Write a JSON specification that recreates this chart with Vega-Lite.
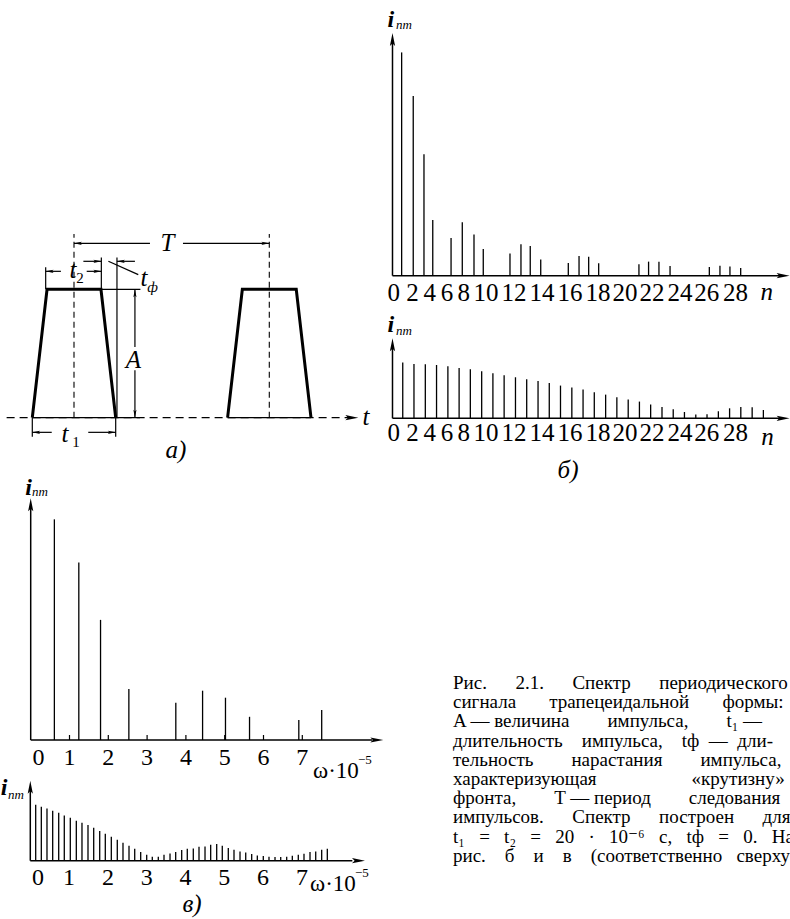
{
"$schema":"https://vega.github.io/schema/vega-lite/v6.json",
"width":790,"height":919,"padding":0,"autosize":{"type":"none"},
"background":"white",
"config":{"view":{"stroke":null},"mark":{"color":"black"},"text":{"font":"Liberation Serif, DejaVu Serif, serif","color":"black"}},
"datasets":{
"b_top":[{"n":0.75,"amp":0.92},{"n":1.70,"amp":0.74},{"n":2.58,"amp":0.50},{"n":3.30,"amp":0.23},{"n":4.80,"amp":0.155},{"n":5.72,"amp":0.22},{"n":6.68,"amp":0.17},{"n":7.44,"amp":0.11},{"n":9.63,"amp":0.092},{"n":10.53,"amp":0.13},{"n":11.29,"amp":0.122},{"n":12.15,"amp":0.067},{"n":14.41,"amp":0.052},{"n":15.29,"amp":0.081},{"n":16.08,"amp":0.078},{"n":16.90,"amp":0.051},{"n":20.20,"amp":0.047},{"n":20.99,"amp":0.058},{"n":21.84,"amp":0.058},{"n":22.75,"amp":0.040},{"n":25.97,"amp":0.036},{"n":26.84,"amp":0.041},{"n":27.66,"amp":0.038},{"n":28.54,"amp":0.032}],
"b_bot":[{"n":0.84,"amp":0.696},{"n":1.76,"amp":0.679},{"n":2.69,"amp":0.675},{"n":3.61,"amp":0.666},{"n":4.54,"amp":0.65},{"n":5.46,"amp":0.629},{"n":6.38,"amp":0.613},{"n":7.31,"amp":0.588},{"n":8.23,"amp":0.563},{"n":9.15,"amp":0.538},{"n":10.08,"amp":0.513},{"n":11.0,"amp":0.488},{"n":11.93,"amp":0.466},{"n":12.85,"amp":0.441},{"n":13.77,"amp":0.409},{"n":14.70,"amp":0.384},{"n":15.62,"amp":0.359},{"n":16.54,"amp":0.325},{"n":17.47,"amp":0.296},{"n":18.39,"amp":0.263},{"n":19.32,"amp":0.234},{"n":20.24,"amp":0.209},{"n":21.16,"amp":0.171},{"n":22.09,"amp":0.141},{"n":23.01,"amp":0.113},{"n":23.93,"amp":0.079},{"n":24.86,"amp":0.046},{"n":25.78,"amp":0.05},{"n":26.71,"amp":0.088},{"n":27.63,"amp":0.125},{"n":28.55,"amp":0.141},{"n":29.48,"amp":0.138},{"n":30.40,"amp":0.104}],
"n_labels":[{"label":"0","at":0.1},{"label":"2","at":1.63},{"label":"4","at":3.05},{"label":"6","at":4.47},{"label":"8","at":5.84},{"label":"10","at":7.66},{"label":"12","at":9.96},{"label":"14","at":12.25},{"label":"16","at":14.55},{"label":"18","at":16.84},{"label":"20","at":19.06},{"label":"22","at":21.27},{"label":"24","at":23.57},{"label":"26","at":25.75},{"label":"28","at":28.11}],
"v_top":[{"w":0.61,"amp":0.913},{"w":1.24,"amp":0.734},{"w":1.80,"amp":0.497},{"w":2.53,"amp":0.211},{"w":3.74,"amp":0.154},{"w":4.43,"amp":0.204},{"w":5.02,"amp":0.175},{"w":5.64,"amp":0.096},{"w":6.91,"amp":0.083},{"w":7.50,"amp":0.124}],
"v_bot":[{"w":0.139,"amp":0.70},{"w":0.284,"amp":0.675},{"w":0.430,"amp":0.654},{"w":0.577,"amp":0.625},{"w":0.732,"amp":0.60},{"w":0.876,"amp":0.566},{"w":1.031,"amp":0.538},{"w":1.186,"amp":0.50},{"w":1.332,"amp":0.475},{"w":1.487,"amp":0.446},{"w":1.634,"amp":0.413},{"w":1.789,"amp":0.371},{"w":1.933,"amp":0.338},{"w":2.088,"amp":0.30},{"w":2.242,"amp":0.263},{"w":2.389,"amp":0.225},{"w":2.544,"amp":0.188},{"w":2.691,"amp":0.15},{"w":2.845,"amp":0.109},{"w":3.0,"amp":0.075},{"w":3.144,"amp":0.05},{"w":3.299,"amp":0.05},{"w":3.446,"amp":0.075},{"w":3.601,"amp":0.091},{"w":3.747,"amp":0.109},{"w":3.902,"amp":0.134},{"w":4.046,"amp":0.15},{"w":4.201,"amp":0.154},{"w":4.348,"amp":0.173},{"w":4.503,"amp":0.179},{"w":4.649,"amp":0.20},{"w":4.804,"amp":0.209},{"w":4.948,"amp":0.188},{"w":5.103,"amp":0.159},{"w":5.250,"amp":0.138},{"w":5.405,"amp":0.116},{"w":5.552,"amp":0.104},{"w":5.706,"amp":0.084},{"w":5.851,"amp":0.066},{"w":6.005,"amp":0.059},{"w":6.152,"amp":0.05},{"w":6.307,"amp":0.046},{"w":6.454,"amp":0.046},{"w":6.608,"amp":0.05},{"w":6.753,"amp":0.063},{"w":6.907,"amp":0.075},{"w":7.054,"amp":0.088},{"w":7.209,"amp":0.109},{"w":7.356,"amp":0.116},{"w":7.510,"amp":0.138},{"w":7.655,"amp":0.15}],
"w_labels":[{"label":"0","at":0.2},{"label":"1","at":1},{"label":"2","at":2},{"label":"3","at":3},{"label":"4","at":4},{"label":"5","at":5},{"label":"6","at":6},{"label":"7","at":7}],
"w_ticks":[{"w":1},{"w":2},{"w":3},{"w":4},{"w":5},{"w":6},{"w":7}],
"pulses":[{"pulse":1,"k":1,"t":-21.35,"A":0},{"pulse":1,"k":2,"t":-13.8,"A":1},{"pulse":1,"k":3,"t":13.8,"A":1},{"pulse":1,"k":4,"t":21.35,"A":0},{"pulse":2,"k":1,"t":78.65,"A":0},{"pulse":2,"k":2,"t":86.2,"A":1},{"pulse":2,"k":3,"t":113.8,"A":1},{"pulse":2,"k":4,"t":121.35,"A":0}],
"a_lines":[{"t":-21.35,"A":0,"t2":33.8,"A2":0},{"t":78.65,"A":0,"t2":121.35,"A2":0},{"t":-14.5,"A":1,"t2":-14.5,"A2":1.171},{"t":14,"A":1,"t2":14,"A2":1.248},{"t":22,"A":0,"t2":22,"A2":1.248},{"t":14,"A":1,"t2":34,"A2":1},{"t":31.2,"A":0,"t2":31.2,"A2":0.37},{"t":31.2,"A":0.55,"t2":31.2,"A2":1},{"t":0,"A":1.358,"t2":38.9,"A2":1.358},{"t":55.8,"A":1.358,"t2":100,"A2":1.358},{"t":-14.5,"A":1.14,"t2":-6.7,"A2":1.14},{"t":6.5,"A":1.14,"t2":14,"A2":1.14},{"t":4.8,"A":1.218,"t2":14,"A2":1.218},{"t":22,"A":1.218,"t2":31.2,"A2":1.218},{"t":17.6,"A":1.218,"t2":32.9,"A2":1.114},{"t":-21.35,"A":0,"t2":-21.35,"A2":-0.148},{"t":21.35,"A":0,"t2":21.35,"A2":-0.148},{"t":-21.35,"A":-0.114,"t2":-11.4,"A2":-0.114},{"t":7.3,"A":-0.114,"t2":21.35,"A2":-0.114}],
"a_centers":[{"t":0,"A":0,"A2":1.431},{"t":100,"A":0,"A2":1.431}],
"a_arrows":[{"t":0,"A":1.358,"dir":"left"},{"t":100,"A":1.358,"dir":"right"},{"t":31.2,"A":1,"dir":"up"},{"t":31.2,"A":0,"dir":"down"},{"t":-14.5,"A":1.14,"dir":"left"},{"t":14,"A":1.14,"dir":"right"},{"t":14,"A":1.218,"dir":"right"},{"t":22,"A":1.218,"dir":"left"},{"t":-21.35,"A":-0.114,"dir":"left"},{"t":21.35,"A":-0.114,"dir":"right"}],
"a_big":[{"t":47.9,"A":1.298,"label":"T"},{"t":30.4,"A":0.387,"label":"A"},{"t":149.5,"A":-0.057,"label":"t"},{"t":52.2,"A":-0.314,"label":"а)"},{"t":-0.5,"A":1.088,"label":"t"},{"t":-4.6,"A":-0.187,"label":"t"},{"t":35.8,"A":1.026,"label":"t"}],
"a_subs":[{"t":3.07,"A":1.049,"label":"2"},{"t":1.0,"A":-0.228,"label":"1"}],
"caption":[
{"line":1,"text":"Рис.\u00a0\u00a0\u00a0\u00a0\u00a0 2.1.\u00a0\u00a0\u00a0\u00a0\u00a0 Спектр\u00a0\u00a0\u00a0\u00a0\u00a0 периодического"},
{"line":2,"text":"сигнала\u00a0\u00a0\u00a0\u00a0\u00a0\u00a0 трапецеидальной\u00a0\u00a0\u00a0\u00a0\u00a0\u00a0 формы:"},
{"line":3,"text":"A — величина\u00a0\u00a0\u00a0\u00a0\u00a0\u00a0\u00a0 импульса,\u00a0\u00a0\u00a0\u00a0\u00a0\u00a0\u00a0 t₁ —"},
{"line":4,"text":"длительность\u00a0\u00a0\u00a0 импульса,\u00a0\u00a0\u00a0 tф\u00a0 —\u00a0 дли-"},
{"line":5,"text":"тельность\u00a0\u00a0\u00a0\u00a0\u00a0\u00a0\u00a0 нарастания\u00a0\u00a0\u00a0\u00a0\u00a0\u00a0\u00a0 импульса,"},
{"line":6,"text":"характеризующая\u00a0\u00a0\u00a0\u00a0\u00a0\u00a0\u00a0\u00a0\u00a0\u00a0\u00a0\u00a0\u00a0\u00a0\u00a0\u00a0\u00a0\u00a0\u00a0 «крутизну»"},
{"line":7,"text":"фронта,\u00a0\u00a0\u00a0\u00a0\u00a0\u00a0\u00a0 T — период\u00a0\u00a0\u00a0\u00a0\u00a0\u00a0\u00a0 следования"},
{"line":8,"text":"импульсов.\u00a0\u00a0\u00a0\u00a0\u00a0 Спектр\u00a0\u00a0\u00a0\u00a0\u00a0 построен\u00a0\u00a0\u00a0\u00a0\u00a0 для"},
{"line":9,"text":"t₁\u00a0\u00a0 =\u00a0\u00a0 t₂\u00a0\u00a0 =\u00a0\u00a0 20\u00a0\u00a0 ·\u00a0\u00a0 10⁻⁶\u00a0\u00a0 с,\u00a0\u00a0 tф\u00a0\u00a0 =\u00a0\u00a0 0.\u00a0\u00a0 На"},
{"line":10,"text":"рис.\u00a0\u00a0\u00a0 б\u00a0\u00a0\u00a0 и\u00a0\u00a0\u00a0 в\u00a0\u00a0\u00a0 (соответственно\u00a0\u00a0 сверху"}]
},
"layer":[
{"data":{"name":"b_top"},"mark":{"type":"rule","strokeWidth":1.3},"encoding":{"x":{"field":"n","type":"quantitative","scale":{"domain":[-32.172,32.582],"nice":false,"zero":false},"axis":null},"y":{"field":"amp","type":"quantitative","scale":{"domain":[-2.6506,1.136],"nice":false,"zero":false},"axis":null},"y2":{"datum":0}}},
{"data":{"values":[{}]},"mark":{"type":"rule","strokeWidth":1.5},"encoding":{"x":{"datum":0,"type":"quantitative","scale":{"domain":[-32.172,32.582],"nice":false,"zero":false},"axis":null},"y":{"datum":0,"type":"quantitative","scale":{"domain":[-2.6506,1.136],"nice":false,"zero":false},"axis":null},"y2":{"datum":0.96}}},
{"data":{"values":[{}]},"mark":{"type":"rule","strokeWidth":1.5},"encoding":{"x":{"datum":0,"type":"quantitative","scale":{"domain":[-32.172,32.582],"nice":false,"zero":false},"axis":null},"x2":{"datum":32.0},"y":{"datum":0,"type":"quantitative","scale":{"domain":[-2.6506,1.136],"nice":false,"zero":false},"axis":null}}},
{"data":{"values":[{}]},"mark":{"type":"point","shape":"M0,0L-0.3,1.5L0,1.2L0.3,1.5Z","filled":true,"size":300,"opacity":1},"encoding":{"x":{"datum":0,"type":"quantitative","scale":{"domain":[-32.172,32.582],"nice":false,"zero":false},"axis":null},"y":{"datum":1,"type":"quantitative","scale":{"domain":[-2.6506,1.136],"nice":false,"zero":false},"axis":null}}},
{"data":{"values":[{}]},"mark":{"type":"point","shape":"M0,0L-1.5,-0.3L-1.2,0L-1.5,0.3Z","filled":true,"size":300,"opacity":1},"encoding":{"x":{"datum":32.55,"type":"quantitative","scale":{"domain":[-32.172,32.582],"nice":false,"zero":false},"axis":null},"y":{"datum":0,"type":"quantitative","scale":{"domain":[-2.6506,1.136],"nice":false,"zero":false},"axis":null}}},
{"data":{"name":"n_labels"},"mark":{"type":"text","font":"Liberation Serif, DejaVu Serif, serif","fontSize":25,"baseline":"middle","align":"center"},"encoding":{"x":{"field":"at","type":"quantitative","scale":{"domain":[-32.172,32.582],"nice":false,"zero":false},"axis":null},"y":{"datum":-0.0713,"type":"quantitative","scale":{"domain":[-2.6506,1.136],"nice":false,"zero":false},"axis":null},"text":{"field":"label"}}},
{"data":{"values":[{}]},"mark":{"type":"text","font":"Liberation Serif, DejaVu Serif, serif","fontSize":25,"fontStyle":"italic","baseline":"middle","align":"center","text":"n"},"encoding":{"x":{"datum":30.67,"type":"quantitative","scale":{"domain":[-32.172,32.582],"nice":false,"zero":false},"axis":null},"y":{"datum":-0.0692,"type":"quantitative","scale":{"domain":[-2.6506,1.136],"nice":false,"zero":false},"axis":null}}},
{"data":{"values":[{}]},"mark":{"type":"text","font":"Liberation Serif, DejaVu Serif, serif","fontSize":24,"fontStyle":"italic","fontWeight":"bold","baseline":"alphabetic","align":"center","text":"i"},"encoding":{"x":{"datum":-0.14,"type":"quantitative","scale":{"domain":[-32.172,32.582],"nice":false,"zero":false},"axis":null},"y":{"datum":1.0247,"type":"quantitative","scale":{"domain":[-2.6506,1.136],"nice":false,"zero":false},"axis":null}}},
{"data":{"values":[{}]},"mark":{"type":"text","font":"Liberation Serif, DejaVu Serif, serif","fontSize":13,"fontStyle":"italic","baseline":"alphabetic","align":"left","text":"nm"},"encoding":{"x":{"datum":0.29,"type":"quantitative","scale":{"domain":[-32.172,32.582],"nice":false,"zero":false},"axis":null},"y":{"datum":1.0165,"type":"quantitative","scale":{"domain":[-2.6506,1.136],"nice":false,"zero":false},"axis":null}}},

{"data":{"name":"b_bot"},"mark":{"type":"rule","strokeWidth":1.3},"encoding":{"x":{"field":"n","type":"quantitative","scale":{"domain":[-32.172,32.582],"nice":false,"zero":false},"axis":null},"y":{"field":"amp","type":"quantitative","scale":{"domain":[-6.25875,5.22875],"nice":false,"zero":false},"axis":null},"y2":{"datum":0}}},
{"data":{"values":[{}]},"mark":{"type":"rule","strokeWidth":1.5},"encoding":{"x":{"datum":0,"type":"quantitative","scale":{"domain":[-32.172,32.582],"nice":false,"zero":false},"axis":null},"y":{"datum":0,"type":"quantitative","scale":{"domain":[-6.25875,5.22875],"nice":false,"zero":false},"axis":null},"y2":{"datum":0.9}}},
{"data":{"values":[{}]},"mark":{"type":"rule","strokeWidth":1.5},"encoding":{"x":{"datum":0,"type":"quantitative","scale":{"domain":[-32.172,32.582],"nice":false,"zero":false},"axis":null},"x2":{"datum":32.0},"y":{"datum":0,"type":"quantitative","scale":{"domain":[-6.25875,5.22875],"nice":false,"zero":false},"axis":null}}},
{"data":{"values":[{}]},"mark":{"type":"point","shape":"M0,0L-0.3,1.5L0,1.2L0.3,1.5Z","filled":true,"size":300,"opacity":1},"encoding":{"x":{"datum":0,"type":"quantitative","scale":{"domain":[-32.172,32.582],"nice":false,"zero":false},"axis":null},"y":{"datum":1,"type":"quantitative","scale":{"domain":[-6.25875,5.22875],"nice":false,"zero":false},"axis":null}}},
{"data":{"values":[{}]},"mark":{"type":"point","shape":"M0,0L-1.5,-0.3L-1.2,0L-1.5,0.3Z","filled":true,"size":300,"opacity":1},"encoding":{"x":{"datum":32.55,"type":"quantitative","scale":{"domain":[-32.172,32.582],"nice":false,"zero":false},"axis":null},"y":{"datum":0,"type":"quantitative","scale":{"domain":[-6.25875,5.22875],"nice":false,"zero":false},"axis":null}}},
{"data":{"name":"n_labels"},"mark":{"type":"text","font":"Liberation Serif, DejaVu Serif, serif","fontSize":25,"baseline":"middle","align":"center"},"encoding":{"x":{"field":"at","type":"quantitative","scale":{"domain":[-32.172,32.582],"nice":false,"zero":false},"axis":null},"y":{"datum":-0.1875,"type":"quantitative","scale":{"domain":[-6.25875,5.22875],"nice":false,"zero":false},"axis":null},"text":{"field":"label"}}},
{"data":{"values":[{}]},"mark":{"type":"text","font":"Liberation Serif, DejaVu Serif, serif","fontSize":25,"fontStyle":"italic","baseline":"middle","align":"center","text":"n"},"encoding":{"x":{"datum":30.74,"type":"quantitative","scale":{"domain":[-32.172,32.582],"nice":false,"zero":false},"axis":null},"y":{"datum":-0.234,"type":"quantitative","scale":{"domain":[-6.25875,5.22875],"nice":false,"zero":false},"axis":null}}},
{"data":{"values":[{}]},"mark":{"type":"text","font":"Liberation Serif, DejaVu Serif, serif","fontSize":24,"fontStyle":"italic","fontWeight":"bold","baseline":"alphabetic","align":"center","text":"i"},"encoding":{"x":{"datum":-0.14,"type":"quantitative","scale":{"domain":[-32.172,32.582],"nice":false,"zero":false},"axis":null},"y":{"datum":1.079,"type":"quantitative","scale":{"domain":[-6.25875,5.22875],"nice":false,"zero":false},"axis":null}}},
{"data":{"values":[{}]},"mark":{"type":"text","font":"Liberation Serif, DejaVu Serif, serif","fontSize":13,"fontStyle":"italic","baseline":"alphabetic","align":"left","text":"nm"},"encoding":{"x":{"datum":0.29,"type":"quantitative","scale":{"domain":[-32.172,32.582],"nice":false,"zero":false},"axis":null},"y":{"datum":1.041,"type":"quantitative","scale":{"domain":[-6.25875,5.22875],"nice":false,"zero":false},"axis":null}}},
{"data":{"values":[{}]},"mark":{"type":"text","font":"Liberation Serif, DejaVu Serif, serif","fontSize":25,"fontStyle":"italic","baseline":"alphabetic","align":"center","text":"б)"},"encoding":{"x":{"datum":14.39,"type":"quantitative","scale":{"domain":[-32.172,32.582],"nice":false,"zero":false},"axis":null},"y":{"datum":-0.75,"type":"quantitative","scale":{"domain":[-6.25875,5.22875],"nice":false,"zero":false},"axis":null}}},

{"data":{"values":[{}]},"mark":{"type":"rule","strokeWidth":1.2,"strokeDash":[8,5]},"encoding":{"x":{"datum":-34.5,"type":"quantitative","scale":{"domain":[-37.89,366.62],"nice":false,"zero":false},"axis":null},"x2":{"datum":142},"y":{"datum":0,"type":"quantitative","scale":{"domain":[-3.9042,3.2531],"nice":false,"zero":false},"axis":null}}},
{"data":{"name":"a_centers"},"mark":{"type":"rule","strokeWidth":1.1,"strokeDash":[6,4]},"encoding":{"x":{"field":"t","type":"quantitative","scale":{"domain":[-37.89,366.62],"nice":false,"zero":false},"axis":null},"y":{"field":"A","type":"quantitative","scale":{"domain":[-3.9042,3.2531],"nice":false,"zero":false},"axis":null},"y2":{"field":"A2"}}},
{"data":{"name":"a_lines"},"mark":{"type":"rule","strokeWidth":1.2},"encoding":{"x":{"field":"t","type":"quantitative","scale":{"domain":[-37.89,366.62],"nice":false,"zero":false},"axis":null},"x2":{"field":"t2"},"y":{"field":"A","type":"quantitative","scale":{"domain":[-3.9042,3.2531],"nice":false,"zero":false},"axis":null},"y2":{"field":"A2"}}},
{"data":{"name":"pulses"},"mark":{"type":"line","strokeWidth":3,"strokeJoin":"miter","strokeCap":"butt"},"encoding":{"x":{"field":"t","type":"quantitative","scale":{"domain":[-37.89,366.62],"nice":false,"zero":false},"axis":null},"y":{"field":"A","type":"quantitative","scale":{"domain":[-3.9042,3.2531],"nice":false,"zero":false},"axis":null},"detail":{"field":"pulse"},"order":{"field":"k"}}},
{"data":{"name":"a_arrows"},"mark":{"type":"point","filled":true,"size":110,"opacity":1},"encoding":{"x":{"field":"t","type":"quantitative","scale":{"domain":[-37.89,366.62],"nice":false,"zero":false},"axis":null},"y":{"field":"A","type":"quantitative","scale":{"domain":[-3.9042,3.2531],"nice":false,"zero":false},"axis":null},"shape":{"field":"dir","type":"nominal","scale":{"domain":["left","right","up","down"],"range":["M0,0L1.5,-0.3L1.2,0L1.5,0.3Z","M0,0L-1.5,-0.3L-1.2,0L-1.5,0.3Z","M0,0L-0.3,1.5L0,1.2L0.3,1.5Z","M0,0L-0.3,-1.5L0,-1.2L0.3,-1.5Z"]},"legend":null}}},
{"data":{"values":[{}]},"mark":{"type":"point","shape":"M0,0L-1.5,-0.3L-1.2,0L-1.5,0.3Z","filled":true,"size":300,"opacity":1},"encoding":{"x":{"datum":145.6,"type":"quantitative","scale":{"domain":[-37.89,366.62],"nice":false,"zero":false},"axis":null},"y":{"datum":0,"type":"quantitative","scale":{"domain":[-3.9042,3.2531],"nice":false,"zero":false},"axis":null}}},
{"data":{"name":"a_big"},"mark":{"type":"text","font":"Liberation Serif, DejaVu Serif, serif","fontSize":25,"fontStyle":"italic","baseline":"alphabetic","align":"center"},"encoding":{"x":{"field":"t","type":"quantitative","scale":{"domain":[-37.89,366.62],"nice":false,"zero":false},"axis":null},"y":{"field":"A","type":"quantitative","scale":{"domain":[-3.9042,3.2531],"nice":false,"zero":false},"axis":null},"text":{"field":"label"}}},
{"data":{"name":"a_subs"},"mark":{"type":"text","font":"Liberation Serif, DejaVu Serif, serif","fontSize":15,"baseline":"alphabetic","align":"center"},"encoding":{"x":{"field":"t","type":"quantitative","scale":{"domain":[-37.89,366.62],"nice":false,"zero":false},"axis":null},"y":{"field":"A","type":"quantitative","scale":{"domain":[-3.9042,3.2531],"nice":false,"zero":false},"axis":null},"text":{"field":"label"}}},
{"data":{"values":[{}]},"mark":{"type":"text","font":"Liberation Serif, DejaVu Serif, serif","fontSize":15,"fontStyle":"italic","baseline":"alphabetic","align":"center","text":"ф"},"encoding":{"x":{"datum":40.2,"type":"quantitative","scale":{"domain":[-37.89,366.62],"nice":false,"zero":false},"axis":null},"y":{"datum":0.978,"type":"quantitative","scale":{"domain":[-3.9042,3.2531],"nice":false,"zero":false},"axis":null}}},

{"data":{"name":"v_top"},"mark":{"type":"rule","strokeWidth":1.3},"encoding":{"x":{"field":"w","type":"quantitative","scale":{"domain":[-0.79124,19.5696],"nice":false,"zero":false},"axis":null},"y":{"field":"amp","type":"quantitative","scale":{"domain":[-0.74059,3.06165],"nice":false,"zero":false},"axis":null},"y2":{"datum":0}}},
{"data":{"name":"w_ticks"},"mark":{"type":"rule","strokeWidth":1.2},"encoding":{"x":{"field":"w","type":"quantitative","scale":{"domain":[-0.79124,19.5696],"nice":false,"zero":false},"axis":null},"y":{"datum":0.0207,"type":"quantitative","scale":{"domain":[-0.74059,3.06165],"nice":false,"zero":false},"axis":null},"y2":{"datum":0}}},
{"data":{"values":[{}]},"mark":{"type":"rule","strokeWidth":1.5},"encoding":{"x":{"datum":0,"type":"quantitative","scale":{"domain":[-0.79124,19.5696],"nice":false,"zero":false},"axis":null},"y":{"datum":0,"type":"quantitative","scale":{"domain":[-0.74059,3.06165],"nice":false,"zero":false},"axis":null},"y2":{"datum":0.96}}},
{"data":{"values":[{}]},"mark":{"type":"rule","strokeWidth":1.5},"encoding":{"x":{"datum":0,"type":"quantitative","scale":{"domain":[-0.79124,19.5696],"nice":false,"zero":false},"axis":null},"x2":{"datum":8.8},"y":{"datum":0,"type":"quantitative","scale":{"domain":[-0.74059,3.06165],"nice":false,"zero":false},"axis":null}}},
{"data":{"values":[{}]},"mark":{"type":"point","shape":"M0,0L-0.3,1.5L0,1.2L0.3,1.5Z","filled":true,"size":300,"opacity":1},"encoding":{"x":{"datum":0,"type":"quantitative","scale":{"domain":[-0.79124,19.5696],"nice":false,"zero":false},"axis":null},"y":{"datum":1,"type":"quantitative","scale":{"domain":[-0.74059,3.06165],"nice":false,"zero":false},"axis":null}}},
{"data":{"values":[{}]},"mark":{"type":"point","shape":"M0,0L-1.5,-0.3L-1.2,0L-1.5,0.3Z","filled":true,"size":300,"opacity":1},"encoding":{"x":{"datum":9.088,"type":"quantitative","scale":{"domain":[-0.79124,19.5696],"nice":false,"zero":false},"axis":null},"y":{"datum":0,"type":"quantitative","scale":{"domain":[-0.74059,3.06165],"nice":false,"zero":false},"axis":null}}},
{"data":{"name":"w_labels"},"mark":{"type":"text","font":"Liberation Serif, DejaVu Serif, serif","fontSize":24,"baseline":"middle","align":"center"},"encoding":{"x":{"field":"at","type":"quantitative","scale":{"domain":[-0.79124,19.5696],"nice":false,"zero":false},"axis":null},"y":{"datum":-0.0745,"type":"quantitative","scale":{"domain":[-0.74059,3.06165],"nice":false,"zero":false},"axis":null},"text":{"field":"label"}}},
{"data":{"values":[{}]},"mark":{"type":"text","font":"Liberation Serif, DejaVu Serif, serif","fontSize":23,"baseline":"alphabetic","align":"left","text":"ω·10"},"encoding":{"x":{"datum":7.276,"type":"quantitative","scale":{"domain":[-0.79124,19.5696],"nice":false,"zero":false},"axis":null},"y":{"datum":-0.157,"type":"quantitative","scale":{"domain":[-0.74059,3.06165],"nice":false,"zero":false},"axis":null}}},
{"data":{"values":[{}]},"mark":{"type":"text","font":"Liberation Serif, DejaVu Serif, serif","fontSize":13,"baseline":"alphabetic","align":"left","text":"−5"},"encoding":{"x":{"datum":8.436,"type":"quantitative","scale":{"domain":[-0.79124,19.5696],"nice":false,"zero":false},"axis":null},"y":{"datum":-0.0993,"type":"quantitative","scale":{"domain":[-0.74059,3.06165],"nice":false,"zero":false},"axis":null}}},
{"data":{"values":[{}]},"mark":{"type":"text","font":"Liberation Serif, DejaVu Serif, serif","fontSize":24,"fontStyle":"italic","fontWeight":"bold","baseline":"alphabetic","align":"center","text":"i"},"encoding":{"x":{"datum":-0.057,"type":"quantitative","scale":{"domain":[-0.79124,19.5696],"nice":false,"zero":false},"axis":null},"y":{"datum":1.0137,"type":"quantitative","scale":{"domain":[-0.74059,3.06165],"nice":false,"zero":false},"axis":null}}},
{"data":{"values":[{}]},"mark":{"type":"text","font":"Liberation Serif, DejaVu Serif, serif","fontSize":13,"fontStyle":"italic","baseline":"alphabetic","align":"left","text":"nm"},"encoding":{"x":{"datum":0.034,"type":"quantitative","scale":{"domain":[-0.79124,19.5696],"nice":false,"zero":false},"axis":null},"y":{"datum":1.0095,"type":"quantitative","scale":{"domain":[-0.74059,3.06165],"nice":false,"zero":false},"axis":null}}},

{"data":{"name":"v_bot"},"mark":{"type":"rule","strokeWidth":1.3},"encoding":{"x":{"field":"w","type":"quantitative","scale":{"domain":[-0.78093,19.5799],"nice":false,"zero":false},"axis":null},"y":{"field":"amp","type":"quantitative","scale":{"domain":[-0.72875,10.75875],"nice":false,"zero":false},"axis":null},"y2":{"datum":0}}},
{"data":{"values":[{}]},"mark":{"type":"rule","strokeWidth":1.5},"encoding":{"x":{"datum":0,"type":"quantitative","scale":{"domain":[-0.78093,19.5799],"nice":false,"zero":false},"axis":null},"y":{"datum":0,"type":"quantitative","scale":{"domain":[-0.72875,10.75875],"nice":false,"zero":false},"axis":null},"y2":{"datum":0.9}}},
{"data":{"values":[{}]},"mark":{"type":"rule","strokeWidth":1.5},"encoding":{"x":{"datum":0,"type":"quantitative","scale":{"domain":[-0.78093,19.5799],"nice":false,"zero":false},"axis":null},"x2":{"datum":8.3},"y":{"datum":0,"type":"quantitative","scale":{"domain":[-0.72875,10.75875],"nice":false,"zero":false},"axis":null}}},
{"data":{"values":[{}]},"mark":{"type":"point","shape":"M0,0L-0.3,1.5L0,1.2L0.3,1.5Z","filled":true,"size":300,"opacity":1},"encoding":{"x":{"datum":0,"type":"quantitative","scale":{"domain":[-0.78093,19.5799],"nice":false,"zero":false},"axis":null},"y":{"datum":1,"type":"quantitative","scale":{"domain":[-0.72875,10.75875],"nice":false,"zero":false},"axis":null}}},
{"data":{"values":[{}]},"mark":{"type":"point","shape":"M0,0L-1.5,-0.3L-1.2,0L-1.5,0.3Z","filled":true,"size":300,"opacity":1},"encoding":{"x":{"datum":8.626,"type":"quantitative","scale":{"domain":[-0.78093,19.5799],"nice":false,"zero":false},"axis":null},"y":{"datum":0,"type":"quantitative","scale":{"domain":[-0.72875,10.75875],"nice":false,"zero":false},"axis":null}}},
{"data":{"name":"w_labels"},"mark":{"type":"text","font":"Liberation Serif, DejaVu Serif, serif","fontSize":24,"baseline":"middle","align":"center"},"encoding":{"x":{"field":"at","type":"quantitative","scale":{"domain":[-0.78093,19.5799],"nice":false,"zero":false},"axis":null},"y":{"datum":-0.216,"type":"quantitative","scale":{"domain":[-0.72875,10.75875],"nice":false,"zero":false},"axis":null},"text":{"field":"label"}}},
{"data":{"values":[{}]},"mark":{"type":"text","font":"Liberation Serif, DejaVu Serif, serif","fontSize":23,"baseline":"alphabetic","align":"left","text":"ω·10"},"encoding":{"x":{"datum":7.209,"type":"quantitative","scale":{"domain":[-0.78093,19.5799],"nice":false,"zero":false},"axis":null},"y":{"datum":-0.379,"type":"quantitative","scale":{"domain":[-0.72875,10.75875],"nice":false,"zero":false},"axis":null}}},
{"data":{"values":[{}]},"mark":{"type":"text","font":"Liberation Serif, DejaVu Serif, serif","fontSize":13,"baseline":"alphabetic","align":"left","text":"−5"},"encoding":{"x":{"datum":8.369,"type":"quantitative","scale":{"domain":[-0.78093,19.5799],"nice":false,"zero":false},"axis":null},"y":{"datum":-0.204,"type":"quantitative","scale":{"domain":[-0.72875,10.75875],"nice":false,"zero":false},"axis":null}}},
{"data":{"values":[{}]},"mark":{"type":"text","font":"Liberation Serif, DejaVu Serif, serif","fontSize":24,"fontStyle":"italic","fontWeight":"bold","baseline":"alphabetic","align":"center","text":"i"},"encoding":{"x":{"datum":-0.678,"type":"quantitative","scale":{"domain":[-0.78093,19.5799],"nice":false,"zero":false},"axis":null},"y":{"datum":0.821,"type":"quantitative","scale":{"domain":[-0.72875,10.75875],"nice":false,"zero":false},"axis":null}}},
{"data":{"values":[{}]},"mark":{"type":"text","font":"Liberation Serif, DejaVu Serif, serif","fontSize":13,"fontStyle":"italic","baseline":"alphabetic","align":"left","text":"nm"},"encoding":{"x":{"datum":-0.575,"type":"quantitative","scale":{"domain":[-0.78093,19.5799],"nice":false,"zero":false},"axis":null},"y":{"datum":0.773,"type":"quantitative","scale":{"domain":[-0.72875,10.75875],"nice":false,"zero":false},"axis":null}}},
{"data":{"values":[{}]},"mark":{"type":"text","font":"Liberation Serif, DejaVu Serif, serif","fontSize":25,"fontStyle":"italic","baseline":"alphabetic","align":"center","text":"в)"},"encoding":{"x":{"datum":4.17,"type":"quantitative","scale":{"domain":[-0.78093,19.5799],"nice":false,"zero":false},"axis":null},"y":{"datum":-0.64,"type":"quantitative","scale":{"domain":[-0.72875,10.75875],"nice":false,"zero":false},"axis":null}}},

{"data":{"name":"caption"},"mark":{"type":"text","font":"Liberation Serif, DejaVu Serif, serif","fontSize":19,"baseline":"middle","align":"left"},"encoding":{"x":{"datum":0,"type":"quantitative","scale":{"domain":[-453,337],"nice":false,"zero":false},"axis":null},"y":{"field":"line","type":"quantitative","scale":{"domain":[13.2984,-34.6021],"nice":false,"zero":false},"axis":null},"text":{"field":"text"}}}
],
"resolve":{"scale":{"x":"independent","y":"independent","shape":"independent"}}
}
